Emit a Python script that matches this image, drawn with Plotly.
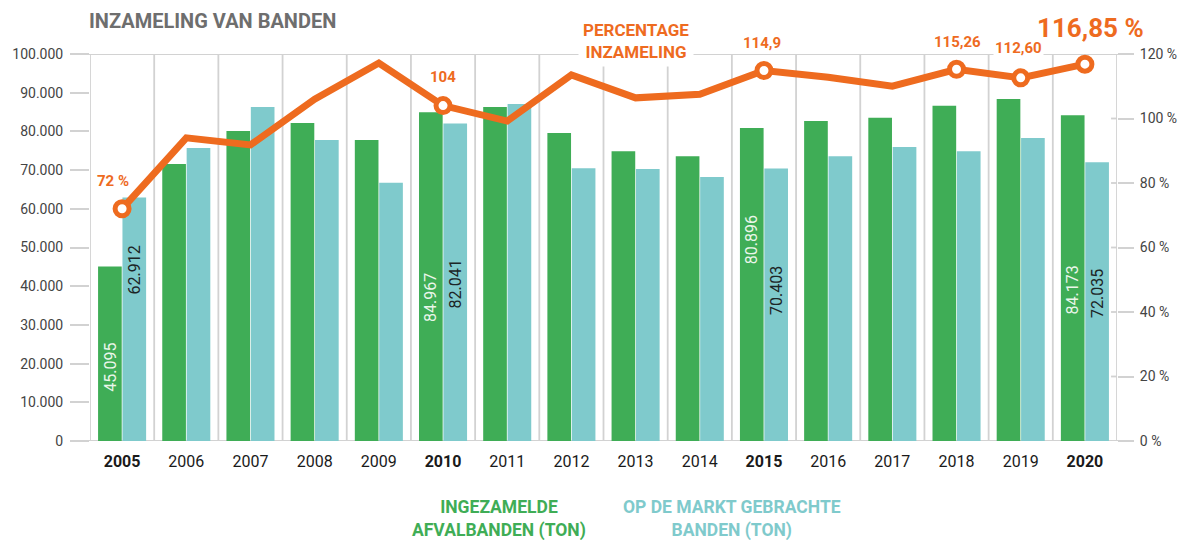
import plotly.graph_objects as go

# Collection of end-of-life tyres in the Netherlands, 2005-2020
years = [str(y) for y in range(2005, 2021)]
collected_ton = [45095, 71600, 80100, 82200, 77800, 84967, 86300, 79600,
                 74900, 73600, 80896, 82700, 83500, 86600, 88400, 84173]
market_ton = [62912, 75700, 86300, 77800, 66700, 82041, 87100, 70500,
              70300, 68200, 70403, 73600, 76000, 74900, 78300, 72035]
collection_pct = [72, 94.0, 91.8, 106.0, 117.2, 104, 99.2, 113.5,
                  106.4, 107.5, 114.9, 112.8, 110.0, 115.26, 112.60, 116.85]

left_ticks = [0, 10000, 20000, 30000, 40000, 50000, 60000, 70000, 80000, 90000, 100000]
right_ticks = [0, 20, 40, 60, 80, 100, 120]
bold_years = ["2005", "2010", "2015", "2020"]
highlight_years = ["2005", "2010", "2015", "2018", "2019", "2020"]
highlight_decimals = {"2005": 0, "2010": 0, "2015": 1, "2018": 2, "2019": 2, "2020": 2}
labelled_bar_years = ["2005", "2010", "2015", "2020"]

GREEN = "#3FAD56"
CYAN = "#7FCACC"
ORANGE = "#EE6B1F"
GRID = "#D2D2D2"
W, H = 1189, 540
L, R, T, B = 87, 1123, 54, 441   # plot area in pixels


def px_x(px):
    return (px - L) / (R - L)


def px_y(py):
    return (B - py) / (B - T)


def nl_thousands(v):
    return f"{v:,}".replace(",", ".")


def nl_decimal(v, d):
    return f"{v:.{d}f}".replace(".", ",")


def paper_text(text, px, py, size, color, bold=True, **kw):
    font = dict(family="Roboto", size=size, color=color)
    if bold:
        font["weight"] = "bold"
    d = dict(text=text, xref="paper", yref="paper", x=px_x(px), y=px_y(py),
             xanchor="center", yanchor="middle", showarrow=False, font=font)
    d.update(kw)
    return d


fig = go.Figure()

fig.add_bar(x=years, y=collected_ton, marker=dict(color=GREEN, line=dict(width=0)),
            name="Ingezamelde afvalbanden (ton)", hoverinfo="x+y")
fig.add_bar(x=years, y=market_ton, marker=dict(color=CYAN, line=dict(width=0)),
            name="Op de markt gebrachte banden (ton)", hoverinfo="x+y")

fig.add_scatter(x=years, y=collection_pct, yaxis="y2", mode="lines",
                line=dict(color=ORANGE, width=7), cliponaxis=False,
                name="Percentage inzameling", hoverinfo="x+y")

idx = [years.index(y) for y in highlight_years]
fig.add_scatter(x=highlight_years, y=[collection_pct[i] for i in idx], yaxis="y2",
                mode="markers", cliponaxis=False, hoverinfo="skip",
                marker=dict(size=14, color="white", line=dict(color=ORANGE, width=5)))

shapes = []
# vertical separators between the year groups (last one doubles as right axis)
for i in range(len(years) + 1):
    shapes.append(dict(type="line", xref="x", yref="y", x0=i - 0.5, x1=i - 0.5,
                       y0=0, y1=100000, line=dict(color=GRID, width=1.8), layer="below"))
# top rule and baseline
for yv in (0, 100000):
    shapes.append(dict(type="line", xref="paper", yref="y", x0=px_x(68), x1=px_x(1140),
                       y0=yv, y1=yv, line=dict(color=GRID, width=1.8), layer="below"))
# inner part of the right axis ticks
for p in right_ticks:
    shapes.append(dict(type="line", xref="paper", yref="y2", x0=px_x(1117), x1=1,
                       y0=p, y1=p, line=dict(color=GRID, width=1.8), layer="below"))

annotations = []
annotations.append(dict(text="INZAMELING VAN BANDEN", xref="paper", yref="paper",
                        x=px_x(84), y=px_y(21), xanchor="left", yanchor="middle",
                        showarrow=False,
                        font=dict(family="Roboto", size=20, color="#6E6E6E", weight="bold")))

# values written inside the bars
green_label_y = {"2005": 19100, "2010": 37100, "2015": 52000, "2020": 39000}
cyan_label_y = {"2005": 44200, "2010": 40600, "2015": 38900, "2020": 38100}
for yr in labelled_bar_years:
    i = years.index(yr)
    annotations.append(dict(text=nl_thousands(collected_ton[i]), x=i, y=green_label_y[yr],
                            xref="x", yref="y", xshift=-12.5, textangle=-90, showarrow=False,
                            xanchor="center", yanchor="middle",
                            font=dict(family="Roboto", size=16, color="#EAF6EA")))
    annotations.append(dict(text=nl_thousands(market_ton[i]), x=i, y=cyan_label_y[yr],
                            xref="x", yref="y", xshift=12.5, textangle=-90, showarrow=False,
                            xanchor="center", yanchor="middle",
                            font=dict(family="Roboto", size=16, color="#1C2526")))

# percentage call-outs
pct_label_pos = {"2005": (110, 181), "2010": (443, 77), "2015": (765, 43),
                 "2018": (962, 42), "2019": (1024, 48)}
for yr in highlight_years[:-1]:
    i = years.index(yr)
    txt = nl_decimal(collection_pct[i], highlight_decimals[yr])
    if yr == "2005":
        txt += " %"
    px, py = pct_label_pos[yr]
    annotations.append(paper_text(txt, px, py, 15, ORANGE, bgcolor="white", borderpad=1))
i_last = years.index(highlight_years[-1])
annotations.append(paper_text(nl_decimal(collection_pct[i_last], 2) + " %",
                              1096, 28, 26, ORANGE))
annotations.append(paper_text("PERCENTAGE<br>INZAMELING", 638, 41, 17, ORANGE,
                              bgcolor="white", borderpad=4, align="center"))

# legend captions
annotations.append(paper_text("INGEZAMELDE<br>AFVALBANDEN (TON)", 500, 519, 17.5, GREEN,
                              align="center"))
annotations.append(paper_text("OP DE MARKT GEBRACHTE<br>BANDEN (TON)", 735, 519, 17.5, CYAN,
                              align="center"))

tick_text = [f"<b>{y}</b>" if y in bold_years else y for y in years]

fig.update_layout(
    width=W, height=H, autosize=False,
    margin=dict(l=L, r=W - R, t=T, b=H - B, pad=0),
    paper_bgcolor="white", plot_bgcolor="white",
    showlegend=False,
    barmode="group", bargap=0.24, bargroupgap=0.03,
    xaxis=dict(type="category", categoryorder="array", categoryarray=years,
               range=[-0.5, len(years) - 0.5], tickmode="array", tickvals=years,
               ticktext=tick_text, showgrid=False, zeroline=False, showline=False,
               ticks="", ticklabelstandoff=9,
               tickfont=dict(family="Roboto", size=16, color="#1A1A1A")),
    yaxis=dict(range=[0, 100000], tickmode="array", tickvals=left_ticks,
               ticktext=[nl_thousands(v) for v in left_ticks],
               showgrid=False, zeroline=False, showline=False,
               ticks="outside", ticklen=19, tickwidth=1.8, tickcolor=GRID,
               ticklabelstandoff=4,
               tickfont=dict(family="Roboto", size=14, color="#444444")),
    yaxis2=dict(range=[0, 120], overlaying="y", side="right", tickmode="array",
                tickvals=right_ticks, ticktext=[f"{v} %" for v in right_ticks],
                showgrid=False, zeroline=False, showline=False,
                ticks="outside", ticklen=16, tickwidth=1.8, tickcolor=GRID,
                ticklabelstandoff=3,
                tickfont=dict(family="Roboto", size=14, color="#444444")),
    annotations=annotations,
    shapes=shapes,
)

fig.write_html("out.html")
